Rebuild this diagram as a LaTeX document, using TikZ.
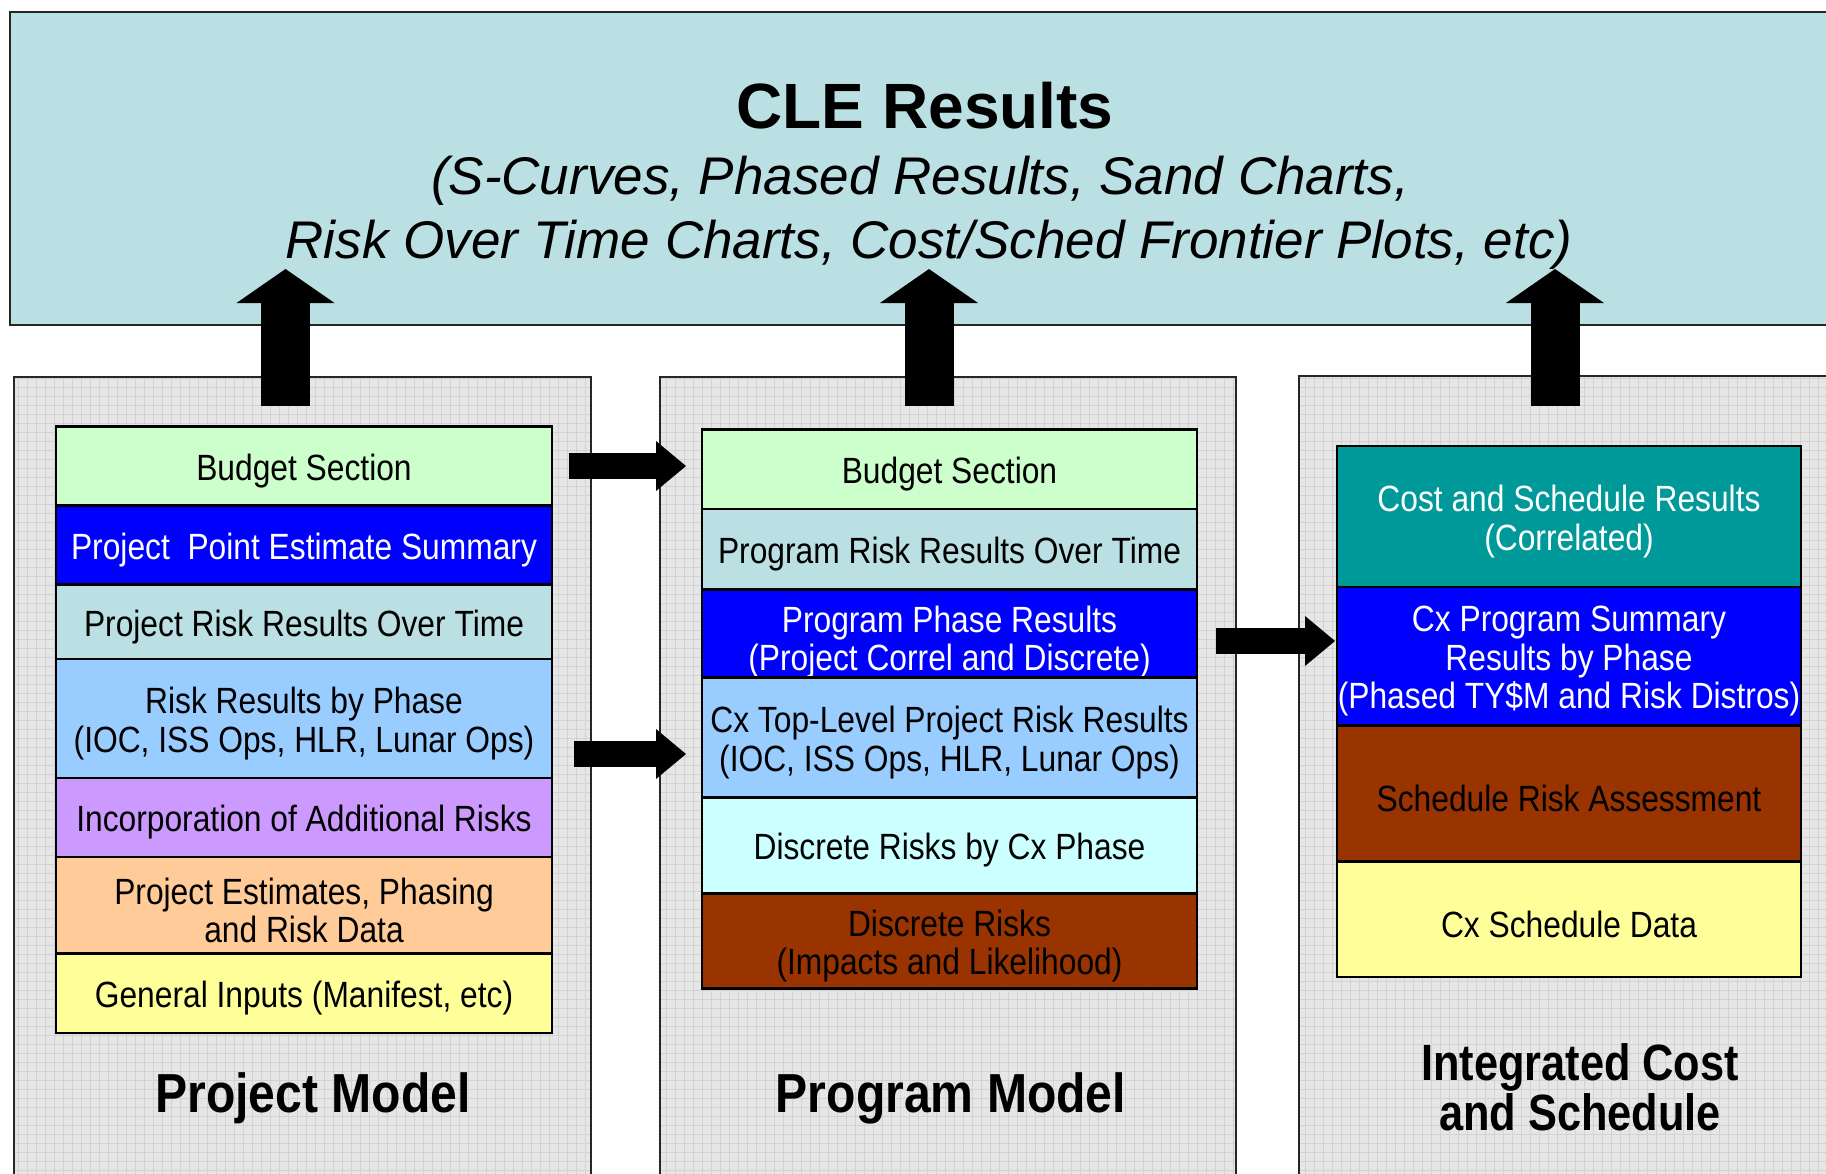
\documentclass[tikz,border=0pt]{standalone}
\usepackage{fontspec}
\setmainfont{Liberation Sans}
\newfontfamily\boxfam[FakeStretch=0.87]{Liberation Sans}
\newfontfamily\labfam[FakeStretch=0.875]{Liberation Sans}
\newfontfamily\labfamb[FakeStretch=0.85]{Liberation Sans}
\usetikzlibrary{arrows.meta}
\definecolor{banner}{HTML}{BBE0E3}
\definecolor{cgreen}{HTML}{CCFFCC}
\definecolor{cblue}{HTML}{0000FF}
\definecolor{cpale}{HTML}{BBE0E3}
\definecolor{csky}{HTML}{99CCFF}
\definecolor{cviolet}{HTML}{CC99FF}
\definecolor{cpeach}{HTML}{FFCC99}
\definecolor{cyellow}{HTML}{FFFF99}
\definecolor{ccyan}{HTML}{CCFFFF}
\definecolor{cbrown}{HTML}{993300}
\definecolor{cteal}{HTML}{009999}
\definecolor{pbg}{HTML}{E6E6E6}
\definecolor{pgrid}{HTML}{D2D2D2}
\newcommand{\rowshift}{-5pt}
\newcommand{\rowbox}[8]{%
  \node[rowframe, fill=#6, minimum width={#3-#2}, minimum height={#5-#4}] (#1) at ({(#2+#3)/2},{(#4+#5)/2}) {};
  \node[rowtext, text=#7] (#1t) at ([yshift=\rowshift]#1.center) {#8};}
\tikzset{
  rowframe/.style={draw=black, line width=2.6pt, inner sep=0pt},
  rowtext/.style={inner sep=0pt, align=center,
    font=\boxfam\fontsize{36.5}{38.5}\selectfont},
  labA/.style={font=\labfam\bfseries\fontsize{55}{58}\selectfont, inner sep=0pt, anchor=base},
  labB/.style={font=\labfamb\bfseries\fontsize{51}{54}\selectfont, inner sep=0pt, anchor=base},
  uparrow/.style={line width=49pt, -{Triangle[width=98pt,length=34pt,line width=0pt]}},
  rarrow/.style={line width=26pt, -{Triangle[width=50pt,length=30pt,line width=0pt]}},
  panelborder/.style={line width=1.8pt, draw=black!85}
}
\begin{document}
\begin{tikzpicture}[x=1pt,y=-1pt]
\useasboundingbox (0,0) rectangle (1826,1173);
\clip (0,0) rectangle (1826,1173);
\fill[white] (0,0) rectangle (1826,1173);
% banner
\node[draw=black!85, line width=1.8pt, fill=banner, minimum width=1831pt, minimum height=313pt, inner sep=0pt, anchor=north west] (banner) at (9,11) {};
% panels
\foreach \x/\X/\t in {14/591/377, 660/1236/377, 1299/1840/376} {
  \begin{scope}
    \clip (\x,\t) rectangle (\X,1185);
    \fill[pbg] (\x,\t) rectangle (\X,1185);
    \draw[pgrid, line width=0.8pt, step=9pt] (\x,\t) grid (\X,1185);
  \end{scope}
  \draw[panelborder] (\x,\t) rectangle (\X,1185);
}
% banner texts
\node[anchor=base, inner sep=0pt, font=\bfseries\fontsize{64}{70}\selectfont] (t0) at (925,128) {CLE Results};
\node[anchor=base, inner sep=0pt, font=\itshape\fontsize{53}{60}\selectfont] (t1) at (920,194) {(S-Curves, Phased Results, Sand Charts,};
\node[anchor=base, inner sep=0pt, font=\itshape\fontsize{53}{60}\selectfont] (t2) at (929,258) {Risk Over Time Charts, Cost/Sched Frontier Plots, etc)};
% up arrows
\coordinate (u1s) at (285.5,406); \coordinate (u1e) at (285.5,269);
\coordinate (u2s) at (929,406);   \coordinate (u2e) at (929,269);
\coordinate (u3s) at (1555,406);  \coordinate (u3e) at (1555,269);
\draw[uparrow] (u1s) -- (u1e);
\draw[uparrow] (u2s) -- (u2e);
\draw[uparrow] (u3s) -- (u3e);
% panel 1 rows
\rowbox{a1}{56}{552}{426.2}{505.4}{cgreen}{black}{Budget Section}
\rowbox{a2}{56}{552}{505.4}{584.6}{cblue}{white}{Project\ \ Point Estimate Summary}
\rowbox{a3}{56}{552}{584.6}{659.1}{cpale}{black}{Project Risk Results Over Time}
\rowbox{a4}{56}{552}{659.1}{777.9}{csky}{black}{Risk Results by Phase\\(IOC, ISS Ops, HLR, Lunar Ops)}
\rowbox{a5}{56}{552}{777.9}{857.1}{cviolet}{black}{Incorporation of Additional Risks}
\rowbox{a6}{56}{552}{857.1}{953.7}{cpeach}{black}{Project Estimates, Phasing\\and Risk Data}
\rowbox{a7}{56}{552}{953.7}{1032.9}{cyellow}{black}{General Inputs (Manifest, etc)}
% panel 2 rows
\rowbox{b1}{702}{1197}{429.7}{508.9}{cgreen}{black}{Budget Section}
\rowbox{b2}{702}{1197}{508.9}{589.2}{cpale}{black}{Program Risk Results Over Time}
\node[rowframe, fill=cblue, minimum width=495pt, minimum height=88.5pt] (b3) at (949.5,633.45) {};
\node[rowtext, text=white] (b3t) at ([yshift=-8.5pt]b3.center) {Program Phase Results\\(Project Correl and Discrete)};
\rowbox{b4}{702}{1197}{677.7}{797.7}{csky}{black}{Cx Top-Level Project Risk Results\\(IOC, ISS Ops, HLR, Lunar Ops)}
\rowbox{b5}{702}{1197}{797.7}{893.2}{ccyan}{black}{Discrete Risks by Cx Phase}
\rowbox{b6}{702}{1197}{893.2}{988.7}{cbrown}{black}{Discrete Risks\\(Impacts and Likelihood)}
% panel 3 rows
\rowbox{c1}{1337}{1801}{446}{586.9}{cteal}{white}{Cost and Schedule Results\\(Correlated)}
\rowbox{c2}{1337}{1801}{586.9}{725.5}{cblue}{white}{Cx Program Summary\\Results by Phase\\(Phased TY\$M and Risk Distros)}
\rowbox{c3}{1337}{1801}{725.5}{861.7}{cbrown}{black}{Schedule Risk Assessment}
\rowbox{c4}{1337}{1801}{861.7}{977}{cyellow}{black}{Cx Schedule Data}
% right arrows
\coordinate (r1s) at (569,466);  \coordinate (r1e) at (686,466);
\coordinate (r2s) at (574,754);  \coordinate (r2e) at (686,754);
\coordinate (r3s) at (1216,641); \coordinate (r3e) at (1335,641);
\draw[rarrow] (r1s) -- (r1e);
\draw[rarrow] (r2s) -- (r2e);
\draw[rarrow] (r3s) -- (r3e);
% labels
\node[labA] (l1) at (313,1112) {Project Model};
\node[labA] (l2) at (951,1112) {Program Model};
\node[labB] (l3a) at (1580,1080) {Integrated Cost};
\node[labB] (l3b) at (1580,1130) {and Schedule};
\end{tikzpicture}
\end{document}
